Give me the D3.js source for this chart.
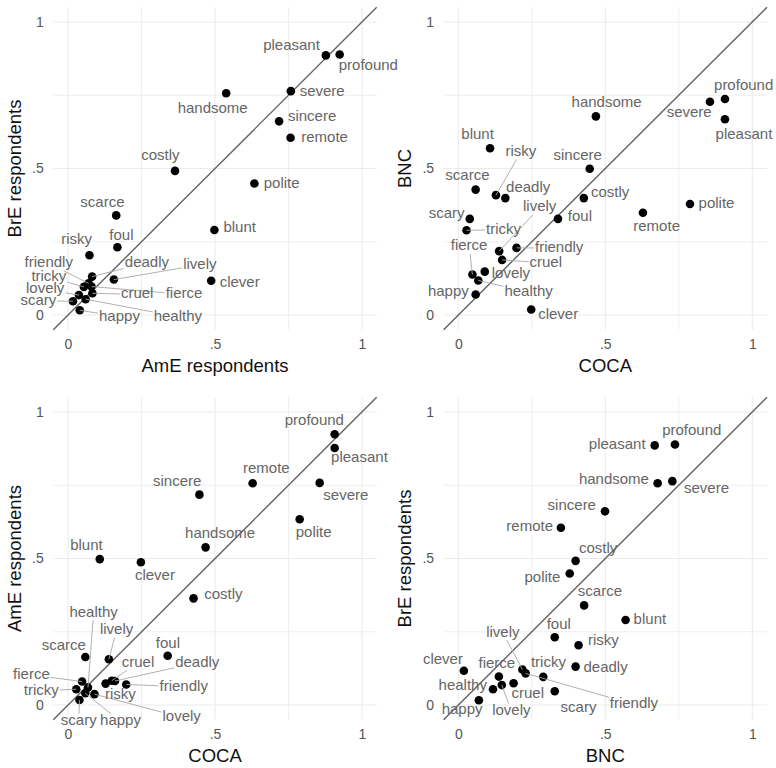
<!DOCTYPE html>
<html>
<head>
<meta charset="utf-8">
<script src="https://cdn.jsdelivr.net/npm/d3@7"></script>
<style>
  body { margin: 0; background: #fff; }
  svg text { font-family: "Liberation Sans", Arial, sans-serif; }
</style>
</head>
<body>
<svg id="chart" width="776" height="768"></svg>
<script>
// Adjectives and the share of each one in the four sources
const words    = ["pleasant","profound","handsome","severe","sincere","remote","costly","polite","scarce","blunt","foul","risky","deadly","lively","friendly","tricky","lovely","scary","cruel","fierce","clever","happy","healthy"];
const ameResp  = [0.877, 0.924, 0.538, 0.758, 0.718, 0.757, 0.364, 0.634, 0.164, 0.498, 0.168, 0.073, 0.082, 0.156, 0.070, 0.054, 0.037, 0.017, 0.083, 0.080, 0.487, 0.040, 0.060];
const breResp  = [0.886, 0.889, 0.757, 0.764, 0.661, 0.605, 0.492, 0.449, 0.340, 0.290, 0.231, 0.204, 0.131, 0.121, 0.108, 0.096, 0.068, 0.047, 0.074, 0.097, 0.117, 0.016, 0.054];
const coca     = [0.907, 0.907, 0.468, 0.856, 0.447, 0.628, 0.427, 0.788, 0.059, 0.108, 0.339, 0.128, 0.160, 0.139, 0.198, 0.028, 0.090, 0.039, 0.149, 0.048, 0.248, 0.059, 0.068];
const bnc      = [0.668, 0.737, 0.678, 0.728, 0.499, 0.349, 0.399, 0.379, 0.428, 0.569, 0.328, 0.409, 0.399, 0.218, 0.229, 0.289, 0.148, 0.328, 0.188, 0.138, 0.019, 0.070, 0.118];

const tickValues = [0, 0.5, 1];
const tickLabels = ["0", ".5", "1"];
const gridValues = [0, 0.25, 0.5, 0.75, 1];

// Label placement (pixel offsets of label centre / baseline from its point)
const labelNudge = [
  { pleasant:[-34.3,-5.7], profound:[28.7,15.7], handsome:[-13.5,19.7], severe:[31.3,5], sincere:[33,0], remote:[34,4],
    costly:[-14.7,-11], polite:[27.3,4.3], scarce:[-13.8,-8.3], blunt:[25.3,2.3], foul:[4,-7.3], risky:[-12.8,-11.3],
    clever:[28.5,6.7], deadly:[54.8,-10], lively:[86,-10.7], friendly:[-39.8,-16], tricky:[-35,-6], lovely:[-33.7,-1.7],
    scary:[-34.7,3.7], cruel:[44.8,5], fierce:[92.5,11.7], happy:[39.7,10.3], healthy:[92.2,21.5] },
  { profound:[18.7,-8.7], severe:[-20.8,15.7], pleasant:[19,19.7], handsome:[10.7,-9.3], blunt:[-12.5,-9.3], risky:[25,-39.3],
    sincere:[-12,-9], scarce:[-8.2,-9.3], deadly:[22.8,-5.7], costly:[26.3,-1.3], polite:[26.5,3.7], lively:[40.5,-39.7],
    scary:[-23.2,-1.3], foul:[22,2], remote:[13.7,18.7], tricky:[37,3.3], fierce:[-3.3,-24.7], friendly:[42.7,4],
    cruel:[43.7,7], lovely:[26.2,6], healthy:[50.3,16], happy:[-27.3,1.7], clever:[27,9.7] },
  { profound:[-20.3,-9], pleasant:[24.8,14], remote:[13.7,-9.7], sincere:[-22.2,-8.3], severe:[26.2,17], polite:[14,18],
    handsome:[14.5,-9.3], blunt:[-13.3,-9], clever:[14,18], costly:[29.8,0.3], healthy:[5.6,-70.7], lively:[7.7,-25.3],
    scarce:[-21.5,-7], foul:[0.3,-8], cruel:[26.2,-14], deadly:[82.2,-14.3], fierce:[-50.7,-2.7], friendly:[57.5,6.3],
    tricky:[-35,5.7], risky:[14.8,15.3], scary:[-0.7,25], happy:[35.2,32], lovely:[87.2,27.3] },
  { profound:[16.8,-9.3], pleasant:[-37.5,4], handsome:[-43.7,1.3], severe:[34.2,12], sincere:[-33.2,-1], remote:[-31.2,3.7],
    costly:[22.5,-8.3], polite:[-27.3,8.3], scarce:[15.8,-9.3], blunt:[24.3,4.3], foul:[4,-8], lively:[-19.5,-32.8],
    risky:[24.8,0], clever:[-21,-6.7], fierce:[-2,-8.3], tricky:[5.2,-10.3], deadly:[30,5], healthy:[-30.2,0.7],
    cruel:[14.2,15], lovely:[9.5,30], happy:[-16.8,13.3], scary:[23.8,21], friendly:[108.3,35] }
];

const panels = [
  { xs: ameResp, ys: breResp, xTitle: "AmE respondents", yTitle: "BrE respondents", ox: 0,     oy: 0 },
  { xs: coca,    ys: bnc,     xTitle: "COCA",            yTitle: "BNC",             ox: 390.3, oy: 0 },
  { xs: coca,    ys: ameResp, xTitle: "COCA",            yTitle: "AmE respondents", ox: 0,     oy: 390 },
  { xs: bnc,     ys: breResp, xTitle: "BNC",             yTitle: "BrE respondents", ox: 390.3, oy: 390 }
];

const plotL = 53.3, plotR = 376.7, plotT = 7.35, plotB = 329.65;
const svg = d3.select("#chart");

panels.forEach((p, pi) => {
  const g = svg.append("g").attr("transform", `translate(${p.ox},${p.oy})`);
  const x = d3.scaleLinear().domain([-0.05, 1.05]).range([plotL, plotR]);
  const y = d3.scaleLinear().domain([-0.05, 1.05]).range([plotB, plotT]);

  // grid
  const grid = g.append("g");
  gridValues.forEach(v => {
    const major = tickValues.includes(v);
    grid.append("line").attr("x1", x(v)).attr("x2", x(v)).attr("y1", plotT).attr("y2", plotB)
      .attr("stroke", "#ebebeb").attr("stroke-width", major ? 1.1 : 0.8);
    grid.append("line").attr("y1", y(v)).attr("y2", y(v)).attr("x1", plotL).attr("x2", plotR)
      .attr("stroke", "#ebebeb").attr("stroke-width", major ? 1.1 : 0.8);
  });

  // axes (text only, minimal theme)
  const xAxis = d3.axisBottom(x).tickValues(tickValues).tickFormat((d, i) => tickLabels[i]).tickSize(0).tickPadding(9);
  const yAxis = d3.axisLeft(y).tickValues(tickValues).tickFormat((d, i) => tickLabels[i]).tickSize(0).tickPadding(9.5);
  const gx = g.append("g").attr("transform", `translate(0,${plotB})`).call(xAxis);
  const gy = g.append("g").attr("transform", `translate(${plotL},0)`).call(yAxis);
  [gx, gy].forEach(a => {
    a.select(".domain").remove();
    a.selectAll("text").attr("fill", "#555").style("font-size", "14px")
      .style("font-family", '"Liberation Sans", Arial, sans-serif');
  });

  // titles
  g.append("text").attr("x", (plotL + plotR) / 2).attr("y", plotB + 42)
    .attr("text-anchor", "middle").attr("fill", "#111").style("font-size", "18.5px").text(p.xTitle);
  g.append("text").attr("transform", `translate(${plotL - 32.8},${(plotT + plotB) / 2}) rotate(-90)`)
    .attr("text-anchor", "middle").attr("fill", "#111").style("font-size", "18.5px").text(p.yTitle);

  // identity line
  g.append("line").attr("x1", x(-0.05)).attr("y1", y(-0.05)).attr("x2", x(1.05)).attr("y2", y(1.05))
    .attr("stroke", "#626262").attr("stroke-width", 1.4);

  const pts = words.map((w, i) => ({ w, px: x(p.xs[i]), py: y(p.ys[i]) }));

  // points
  g.append("g").selectAll("circle").data(pts).join("circle")
    .attr("cx", d => d.px).attr("cy", d => d.py).attr("r", 4.3).attr("fill", "#000");

  // labels with leader segments
  const segs = g.append("g");
  const labs = g.append("g");
  pts.forEach(d => {
    const nd = labelNudge[pi][d.w];
    const cx = d.px + nd[0], by = d.py + nd[1];
    const t = labs.append("text").attr("x", cx).attr("y", by).attr("text-anchor", "middle")
      .attr("fill", "#666").style("font-size", "15px").text(d.w);
    const w = t.node().getComputedTextLength();
    const bx0 = cx - w / 2 - 1, bx1 = cx + w / 2 + 1, by0 = by - 11.5, by1 = by + 3.5;
    const nx = Math.max(bx0, Math.min(d.px, bx1)), ny = Math.max(by0, Math.min(d.py, by1));
    const dist = Math.hypot(nx - d.px, ny - d.py);
    if (dist > 12.5) {
      // end where the line from the label centre to the point leaves the label box
      const ccx = cx, ccy = (by0 + by1) / 2;
      const vx = d.px - ccx, vy = d.py - ccy;
      const tx = vx !== 0 ? ((vx > 0 ? bx1 : bx0) - ccx) / vx : Infinity;
      const ty = vy !== 0 ? ((vy > 0 ? by1 : by0) - ccy) / vy : Infinity;
      const s = Math.min(tx, ty);
      segs.append("line").attr("x1", d.px).attr("y1", d.py)
        .attr("x2", ccx + vx * s).attr("y2", ccy + vy * s)
        .attr("stroke", "#a8a8a8").attr("stroke-width", 0.9);
    }
  });
});
</script>
</body>
</html>
